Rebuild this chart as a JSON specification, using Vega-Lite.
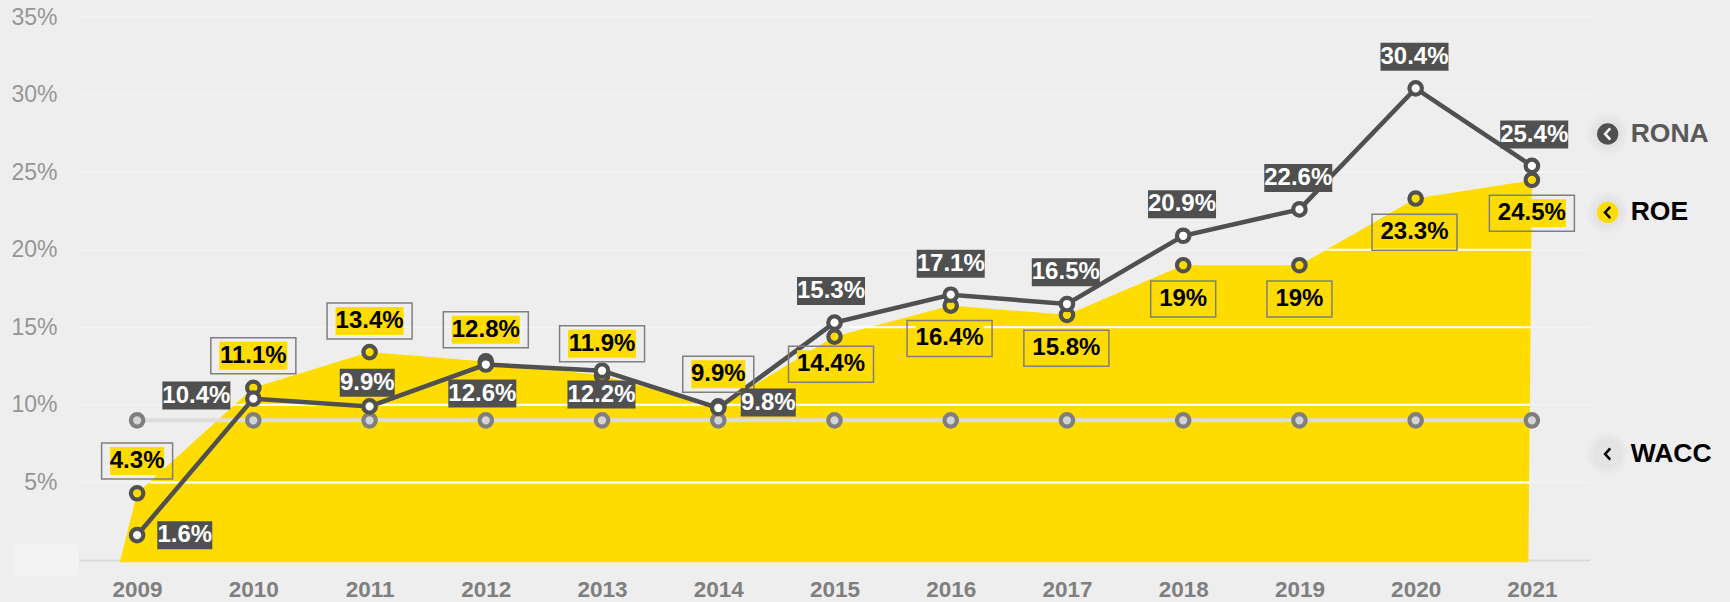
{
"$schema":"https://vega.github.io/schema/vega-lite/v6.json",
"autosize":{"type":"none"},
"width":1511,"height":543,
"padding":{"left":79,"top":17,"right":140,"bottom":42},
"background":"#eeeeee",
"config":{"view":{"stroke":null},"font":"Liberation Sans","text":{"font":"Liberation Sans"}},
"datasets":{
"rona":[
{"year":2009,"value":1.6,"label":"1.6%","labelYear":2009.41,"labelValue":1.6},
{"year":2010,"value":10.4,"label":"10.4%","labelYear":2009.51,"labelValue":10.6},
{"year":2011,"value":9.9,"label":"9.9%","labelYear":2010.98,"labelValue":11.43},
{"year":2012,"value":12.6,"label":"12.6%","labelYear":2011.97,"labelValue":10.73},
{"year":2013,"value":12.2,"label":"12.2%","labelYear":2012.995,"labelValue":10.66},
{"year":2014,"value":9.8,"label":"9.8%","labelYear":2014.43,"labelValue":10.15},
{"year":2015,"value":15.3,"label":"15.3%","labelYear":2014.97,"labelValue":17.34},
{"year":2016,"value":17.1,"label":"17.1%","labelYear":2016,"labelValue":19.1},
{"year":2017,"value":16.5,"label":"16.5%","labelYear":2016.99,"labelValue":18.54},
{"year":2018,"value":20.9,"label":"20.9%","labelYear":2017.99,"labelValue":22.93},
{"year":2019,"value":22.6,"label":"22.6%","labelYear":2018.99,"labelValue":24.63},
{"year":2020,"value":30.4,"label":"30.4%","labelYear":2019.99,"labelValue":32.43},
{"year":2021,"value":25.4,"label":"25.4%","labelYear":2021.02,"labelValue":27.42}
],
"roe":[
{"year":2009,"value":4.3,"label":"4.3%","labelYear":2009,"labelValue":6.38},
{"year":2010,"value":11.1,"label":"11.1%","labelYear":2010,"labelValue":13.17},
{"year":2011,"value":13.4,"label":"13.4%","labelYear":2011,"labelValue":15.41},
{"year":2012,"value":12.8,"label":"12.8%","labelYear":2012,"labelValue":14.84},
{"year":2013,"value":11.9,"label":"11.9%","labelYear":2013,"labelValue":13.94},
{"year":2014,"value":9.9,"label":"9.9%","labelYear":2014,"labelValue":11.97},
{"year":2015,"value":14.4,"label":"14.4%","labelYear":2014.97,"labelValue":12.61},
{"year":2016,"value":16.4,"label":"16.4%","labelYear":2015.99,"labelValue":14.28},
{"year":2017,"value":15.8,"label":"15.8%","labelYear":2016.995,"labelValue":13.65},
{"year":2018,"value":19,"label":"19%","labelYear":2018,"labelValue":16.83},
{"year":2019,"value":19,"label":"19%","labelYear":2019,"labelValue":16.83},
{"year":2020,"value":23.3,"label":"23.3%","labelYear":2019.99,"labelValue":21.13},
{"year":2021,"value":24.5,"label":"24.5%","labelYear":2021,"labelValue":22.35}
],
"wacc":[
{"year":2009,"value":9},{"year":2010,"value":9},{"year":2011,"value":9},{"year":2012,"value":9},{"year":2013,"value":9},{"year":2014,"value":9},{"year":2015,"value":9},{"year":2016,"value":9},{"year":2017,"value":9},{"year":2018,"value":9},{"year":2019,"value":9},{"year":2020,"value":9},{"year":2021,"value":9}
],
"outline":[
{"year":2008.85,"value":-0.15,"base":-0.15},
{"year":2009,"value":4.3,"base":-0.15},
{"year":2010,"value":11.1,"base":-0.15},
{"year":2011,"value":13.4,"base":-0.15},
{"year":2012,"value":12.8,"base":-0.15},
{"year":2013,"value":11.9,"base":-0.15},
{"year":2014,"value":9.9,"base":-0.15},
{"year":2015,"value":14.4,"base":-0.15},
{"year":2016,"value":16.4,"base":-0.15},
{"year":2017,"value":15.8,"base":-0.15},
{"year":2018,"value":19,"base":-0.15},
{"year":2019,"value":19,"base":-0.15},
{"year":2020,"value":23.3,"base":-0.15},
{"year":2020.97,"value":24.43,"base":-0.15},
{"year":2021,"value":24.5,"base":24.5}
],
"grid":[{"value":5,"from":2008.5,"to":2021.5},{"value":10,"from":2008.5,"to":2021.5},{"value":15,"from":2008.5,"to":2021.5},{"value":20,"from":2008.5,"to":2021.5},{"value":25,"from":2008.5,"to":2021.5},{"value":30,"from":2008.5,"to":2021.5},{"value":35,"from":2008.5,"to":2021.5}],
"gridOnArea":[{"value":5,"from":2009.11,"to":2020.975},{"value":10,"from":2009.88,"to":2020.98},{"value":15,"from":2015.13,"to":2020.985},{"value":20,"from":2019.26,"to":2020.99}],
"legend":[
{"series":"RONA","year":2021.652,"value":27.46,"textYear":2021.85},
{"series":"ROE","year":2021.652,"value":22.4,"textYear":2021.85},
{"series":"WACC","year":2021.652,"value":6.83,"textYear":2021.85}
],
"patch":[{"year":2007.94,"year2":2008.5,"value":-1,"value2":1}]
},
"encoding":{
"x":{"field":"year","type":"quantitative","title":null,"scale":{"domain":[2008.5,2021.5],"nice":false,"zero":false},
"axis":{"values":[2009,2010,2011,2012,2013,2014,2015,2016,2017,2018,2019,2020,2021],"format":"d","grid":false,"ticks":false,"domainColor":"#d9d9d9","domainWidth":2,"labelFont":"Liberation Sans","labelFontSize":22.5,"labelFontWeight":"bold","labelColor":"#7f7f7f","labelPadding":18,"labelOverlap":false,"labelFlush":false}},
"y":{"field":"value","type":"quantitative","title":null,"scale":{"domain":[0,35],"nice":false},
"axis":{"values":[5,10,15,20,25,30,35],"labelExpr":"datum.value+'%'","grid":false,"ticks":false,"domain":false,"labelFont":"Liberation Sans","labelFontSize":23,"labelColor":"#969696","labelPadding":22}}
},
"layer":[
{"data":{"name":"outline"},"mark":{"type":"area","fill":"#ffdc00"},"encoding":{"y2":{"field":"base"}}},
{"data":{"name":"patch"},"mark":{"type":"rect","color":"#f3f3f3"},"encoding":{"x2":{"field":"year2"},"y2":{"field":"value2"}}},
{"data":{"name":"grid"},"mark":{"type":"rule","color":"#f4f4f4","strokeWidth":1.5},"encoding":{"x":{"field":"from"},"x2":{"field":"to"}}},
{"data":{"name":"gridOnArea"},"mark":{"type":"rule","color":"#ffffff","strokeWidth":2},"encoding":{"x":{"field":"from"},"x2":{"field":"to"}}},
{"data":{"name":"wacc"},"mark":{"type":"line","color":"#dcdcdc","strokeWidth":4}},
{"data":{"name":"wacc"},"mark":{"type":"point","filled":true,"fill":"#d4d4d4","stroke":"#7f7f7f","strokeWidth":4.2,"size":155,"opacity":1}},
{"data":{"name":"roe"},"mark":{"type":"point","filled":true,"fill":"#ffdc00","stroke":"#505050","strokeWidth":4.2,"size":155,"opacity":1}},
{"data":{"name":"rona"},"mark":{"type":"line","color":"#505050","strokeWidth":4.5}},
{"data":{"name":"rona"},"mark":{"type":"point","filled":true,"fill":"#ffffff","stroke":"#505050","strokeWidth":4.2,"size":155,"opacity":1}},
{"data":{"name":"roe"},"transform":[{"filter":"length(datum.label)==5"}],"mark":{"type":"rect","fill":"#ffdc00","width":68,"height":28},"encoding":{"x":{"field":"labelYear"},"y":{"field":"labelValue"}}},
{"data":{"name":"roe"},"transform":[{"filter":"length(datum.label)==4"}],"mark":{"type":"rect","fill":"#ffdc00","width":54,"height":28},"encoding":{"x":{"field":"labelYear"},"y":{"field":"labelValue"}}},
{"data":{"name":"roe"},"transform":[{"filter":"length(datum.label)==3"}],"mark":{"type":"rect","fill":"#ffdc00","width":48,"height":28},"encoding":{"x":{"field":"labelYear"},"y":{"field":"labelValue"}}},
{"data":{"name":"roe"},"transform":[{"filter":"length(datum.label)==5"}],"mark":{"type":"rect","filled":false,"fill":null,"stroke":"#7f7f7f","strokeWidth":1.5,"width":85,"height":36},"encoding":{"x":{"field":"labelYear"},"y":{"field":"labelValue"}}},
{"data":{"name":"roe"},"transform":[{"filter":"length(datum.label)==4"}],"mark":{"type":"rect","filled":false,"fill":null,"stroke":"#7f7f7f","strokeWidth":1.5,"width":71,"height":36},"encoding":{"x":{"field":"labelYear"},"y":{"field":"labelValue"}}},
{"data":{"name":"roe"},"transform":[{"filter":"length(datum.label)==3"}],"mark":{"type":"rect","filled":false,"fill":null,"stroke":"#7f7f7f","strokeWidth":1.5,"width":65,"height":36},"encoding":{"x":{"field":"labelYear"},"y":{"field":"labelValue"}}},
{"data":{"name":"roe"},"mark":{"type":"text","font":"Liberation Sans","fontSize":24,"fontWeight":"bold","color":"#000000","baseline":"middle","align":"center"},"encoding":{"x":{"field":"labelYear"},"y":{"field":"labelValue"},"text":{"field":"label"}}},
{"data":{"name":"rona"},"transform":[{"filter":"length(datum.label)==5"}],"mark":{"type":"rect","fill":"#505050","width":68,"height":28},"encoding":{"x":{"field":"labelYear"},"y":{"field":"labelValue"}}},
{"data":{"name":"rona"},"transform":[{"filter":"length(datum.label)==4"}],"mark":{"type":"rect","fill":"#505050","width":55,"height":28},"encoding":{"x":{"field":"labelYear"},"y":{"field":"labelValue"}}},
{"data":{"name":"rona"},"mark":{"type":"text","font":"Liberation Sans","fontSize":24,"fontWeight":"bold","color":"#ffffff","baseline":"middle","align":"center"},"encoding":{"x":{"field":"labelYear"},"y":{"field":"labelValue"},"text":{"field":"label"}}},
{"data":{"name":"legend"},"mark":{"type":"point","filled":true,"size":1800,"color":"#000000","opacity":0.012}},
{"data":{"name":"legend"},"mark":{"type":"point","filled":true,"size":1300,"color":"#000000","opacity":0.015}},
{"data":{"name":"legend"},"mark":{"type":"point","filled":true,"size":850,"color":"#000000","opacity":0.015}},
{"data":{"name":"legend"},"mark":{"type":"point","filled":true,"size":452,"opacity":1},"encoding":{"color":{"field":"series","type":"nominal","legend":null,"scale":{"domain":["RONA","ROE","WACC"],"range":["#505050","#ffdc00","#e4e4e4"]}}}},
{"data":{"name":"legend"},"transform":[{"filter":"datum.series=='RONA'"}],"mark":{"type":"point","shape":"M0.35,-0.75L-0.35,0L0.35,0.75","filled":false,"stroke":"#ffffff","strokeWidth":2.5,"size":220,"opacity":1}},
{"data":{"name":"legend"},"transform":[{"filter":"datum.series!='RONA'"}],"mark":{"type":"point","shape":"M0.35,-0.75L-0.35,0L0.35,0.75","filled":false,"stroke":"#000000","strokeWidth":2.5,"size":220,"opacity":1}},
{"data":{"name":"legend"},"transform":[{"filter":"datum.series=='RONA'"}],"mark":{"type":"text","align":"left","baseline":"middle","font":"Liberation Sans","fontSize":26.5,"fontWeight":"bold","color":"#595959"},"encoding":{"x":{"field":"textYear"},"text":{"field":"series"}}},
{"data":{"name":"legend"},"transform":[{"filter":"datum.series!='RONA'"}],"mark":{"type":"text","align":"left","baseline":"middle","font":"Liberation Sans","fontSize":26.5,"fontWeight":"bold","color":"#000000"},"encoding":{"x":{"field":"textYear"},"text":{"field":"series"}}}
]
}
